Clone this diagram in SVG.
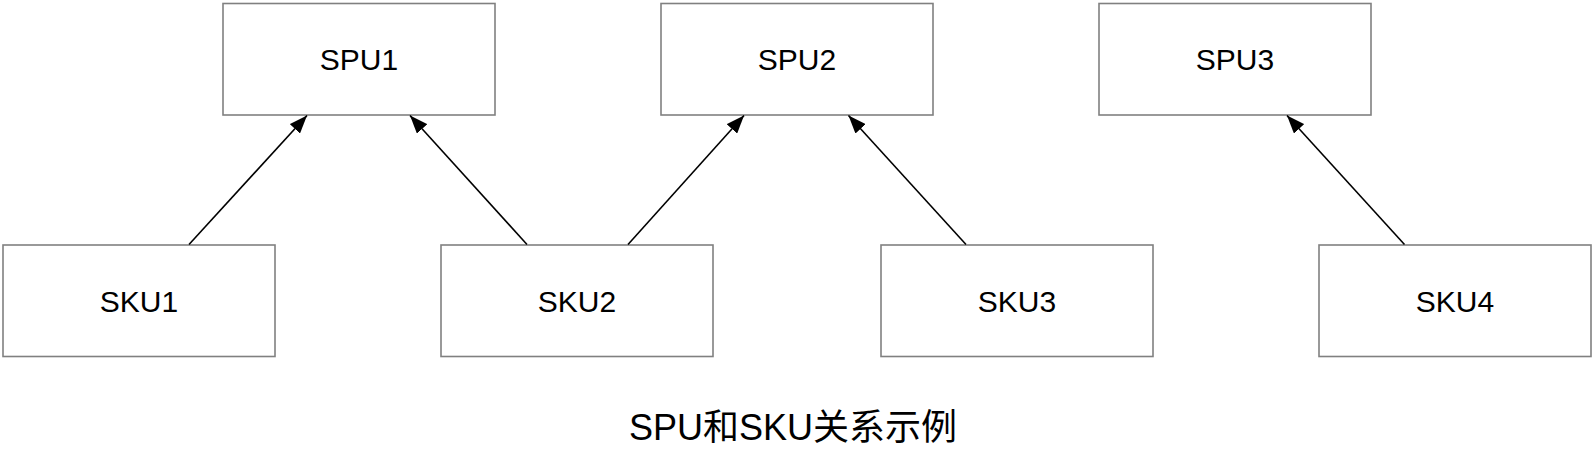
<svg xmlns="http://www.w3.org/2000/svg" width="1592" height="451" viewBox="0 0 1592 451">
<style>
.box{fill:#ffffff;stroke:#808080;stroke-width:1.6}
.lbl{font-family:"Liberation Sans",Arial,sans-serif;font-size:30px;fill:#000000;text-anchor:middle}
.title{font-family:"Liberation Sans",Arial,"Noto Sans CJK SC",sans-serif;font-size:36px;fill:#000000;text-anchor:middle}
.edge{stroke:#000000;stroke-width:1.6;fill:none;marker-end:url(#arr)}
</style>
<defs>
<marker id="arr" viewBox="0 0 18 14" refX="18" refY="7" markerWidth="18" markerHeight="14" orient="auto" markerUnits="userSpaceOnUse">
<path d="M0,0 L18,7 L0,14 Z" fill="#000000"/>
</marker>
</defs>
<rect width="1592" height="451" fill="#ffffff"/>
<g id="SPU1"><rect class="box" x="223" y="3.5" width="272" height="111.5"/><text class="lbl" x="359" y="70">SPU1</text></g>
<g id="SPU2"><rect class="box" x="661" y="3.5" width="272" height="111.5"/><text class="lbl" x="797" y="70">SPU2</text></g>
<g id="SPU3"><rect class="box" x="1099" y="3.5" width="272" height="111.5"/><text class="lbl" x="1235" y="70">SPU3</text></g>
<g id="SKU1"><rect class="box" x="3" y="245" width="272" height="111.5"/><text class="lbl" x="139" y="311.5">SKU1</text></g>
<g id="SKU2"><rect class="box" x="441" y="245" width="272" height="111.5"/><text class="lbl" x="577" y="311.5">SKU2</text></g>
<g id="SKU3"><rect class="box" x="881" y="245" width="272" height="111.5"/><text class="lbl" x="1017" y="311.5">SKU3</text></g>
<g id="SKU4"><rect class="box" x="1319" y="245" width="272" height="111.5"/><text class="lbl" x="1455" y="311.5">SKU4</text></g>
<g id="connectors">
<line class="edge" x1="189" y1="244.5" x2="307" y2="115.5"/>
<line class="edge" x1="527" y1="244.5" x2="410" y2="115.5"/>
<line class="edge" x1="628" y1="244.5" x2="744" y2="115.5"/>
<line class="edge" x1="966" y1="244.5" x2="848.5" y2="115.5"/>
<line class="edge" x1="1404.5" y1="244.5" x2="1287" y2="115.5"/>
</g>
<text id="title" class="title" x="793" y="440">SPU和SKU关系示例</text>
</svg>
